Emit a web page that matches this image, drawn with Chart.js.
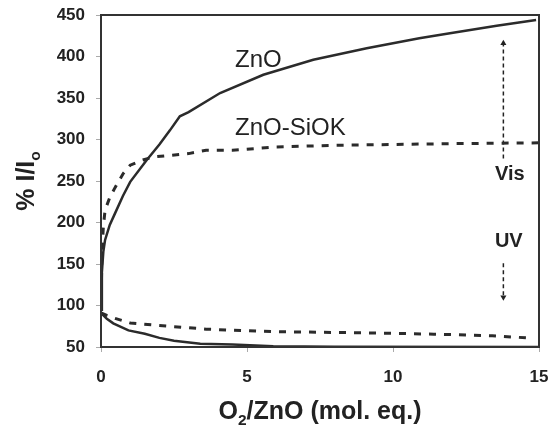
<!DOCTYPE html>
<html>
<head>
<meta charset="utf-8">
<script src="https://cdn.jsdelivr.net/npm/chart.js@4"></script>
<style>
  body { margin: 0; background: #fff; }
  canvas { display: block; }
</style>
</head>
<body>
<canvas id="grafico" width="549" height="430"></canvas>
<script>
// datos
const znoVisX = [0, 0.03, 0.08, 0.14, 0.3, 0.48, 0.75, 1.0, 1.56, 2.0, 2.36, 2.7, 3.0, 4.08, 5.56, 7.27, 9.1, 10.0, 10.9, 11.95, 13.55, 14.9];
const znoVisY = [95, 140, 165, 179, 197, 211, 232, 249, 275, 294, 311, 328, 333, 356, 378, 396, 410, 416, 422, 428, 437, 444];

const siokVisX = [0, 0.03, 0.08, 0.14, 0.3, 0.48, 0.76, 1.0, 1.4, 1.8, 2.4, 3.0, 3.6, 4.5, 6.0, 8.0, 10.0, 12.0, 15.0];
const siokVisY = [95, 160, 195, 215, 230, 242, 259, 269, 275, 279, 281, 283, 287, 287, 291, 293, 294, 295, 296];

const znoUvX = [0, 0.2, 0.42, 0.94, 1.5, 2.0, 2.5, 3.4, 4.5, 5.9, 8.0, 15.0];
const znoUvY = [91, 84, 78.5, 70, 66, 61, 57.5, 54, 53, 51, 50.3, 50];

const siokUvX = [0, 0.2, 0.48, 1.0, 1.8, 3.6, 5.9, 9.1, 11.4, 13.4, 14.6];
const siokUvY = [91, 88, 84.5, 79, 76.5, 71.5, 68.5, 67, 65.5, 63.5, 61];

// flechas Vis / UV
const arrowVisX = [13.78, 13.78];
const arrowVisY = [277, 416];
const arrowUvX = [13.78, 13.78];
const arrowUvY = [151, 110];

const xTicks = [0, 5, 10, 15];
const yTicks = [50, 100, 150, 200, 250, 300, 350, 400, 450];

const FONT = "'Liberation Sans', Arial, sans-serif";

function puntos(xs, ys) {
  return xs.map((x, i) => ({ x: x, y: ys[i] }));
}

function linea(xs, ys, dashed) {
  return {
    data: puntos(xs, ys),
    borderColor: '#2b2b2b',
    borderWidth: dashed ? 3 : 2.5,
    borderDash: dashed ? [7, 8] : [],
    pointRadius: 0,
    tension: 0,
    fill: false
  };
}

function flecha(xs, ys, rot) {
  return {
    data: puntos(xs, ys),
    borderColor: '#222',
    backgroundColor: '#222',
    borderWidth: 1.5,
    borderDash: [4, 3],
    pointStyle: 'triangle',
    pointRadius: [0, 3.5],
    pointRotation: rot,
    pointBorderWidth: 0,
    tension: 0
  };
}

// textos sobre el grafico, en coordenadas de datos
const textos = [
  { t: 'ZnO', x: 4.59, y: 387, font: '24px ' + FONT },
  { t: 'ZnO-SiOK', x: 4.59, y: 305, font: '24px ' + FONT },
  { t: 'Vis', x: 13.49, y: 251, font: 'bold 20px ' + FONT },
  { t: 'UV', x: 13.49, y: 170.5, font: 'bold 20px ' + FONT }
];

function dibujarPartes(ctx, partes, cx, cy, size) {
  let total = 0;
  partes.forEach(p => {
    ctx.font = 'bold ' + (p.sub ? size * 0.62 : size) + 'px ' + FONT;
    total += ctx.measureText(p.t).width;
  });
  let x = cx - total / 2;
  partes.forEach(p => {
    ctx.font = 'bold ' + (p.sub ? size * 0.62 : size) + 'px ' + FONT;
    ctx.fillText(p.t, x, p.sub ? cy + size * 0.22 : cy);
    x += ctx.measureText(p.t).width;
  });
}

const overlay = {
  id: 'overlay',
  afterDraw(chart) {
    const ctx = chart.ctx;
    const a = chart.chartArea;
    const sx = chart.scales.x;
    const sy = chart.scales.y;
    ctx.save();

    ctx.strokeStyle = '#333';
    ctx.lineWidth = 2;
    ctx.strokeRect(a.left, a.top, a.right - a.left, a.bottom - a.top);

    ctx.fillStyle = '#222';
    ctx.textAlign = 'left';
    ctx.textBaseline = 'alphabetic';
    textos.forEach(tx => {
      ctx.font = tx.font;
      ctx.fillText(tx.t, sx.getPixelForValue(tx.x), sy.getPixelForValue(tx.y));
    });

    // titulo eje x
    dibujarPartes(ctx, [
      { t: 'O' }, { t: '2', sub: true }, { t: '/ZnO (mol. eq.)' }
    ], (a.left + a.right) / 2, 419, 25);

    // titulo eje y
    ctx.translate(34, (a.top + a.bottom) / 2);
    ctx.rotate(-Math.PI / 2);
    dibujarPartes(ctx, [{ t: '% I/I' }, { t: 'o', sub: true }], 0, 0, 25);

    ctx.restore();
  }
};

new Chart(document.getElementById('grafico'), {
  type: 'line',
  data: {
    datasets: [
      linea(znoVisX, znoVisY, false),
      linea(siokVisX, siokVisY, true),
      linea(znoUvX, znoUvY, false),
      linea(siokUvX, siokUvY, true),
      flecha(arrowVisX, arrowVisY, 0),
      flecha(arrowUvX, arrowUvY, 180)
    ]
  },
  options: {
    responsive: false,
    animation: false,
    layout: { padding: { left: 0, top: 15, right: 10, bottom: 0 } },
    plugins: {
      legend: { display: false },
      tooltip: { enabled: false }
    },
    scales: {
      x: {
        type: 'linear',
        min: 0,
        max: 15,
        afterBuildTicks: s => { s.ticks = xTicks.map(v => ({ value: v })); },
        afterFit: s => { s.height = 83; s.paddingLeft = 0; s.paddingRight = 0; },
        border: { display: false },
        grid: { drawOnChartArea: false, drawTicks: true, tickLength: 5, color: '#aaa' },
        ticks: {
          padding: 15,
          color: '#222',
          font: { family: FONT, size: 17, weight: 'bold' }
        }
      },
      y: {
        min: 50,
        max: 450,
        afterBuildTicks: s => { s.ticks = yTicks.map(v => ({ value: v })); },
        afterFit: s => { s.width = 101; s.paddingTop = 0; s.paddingBottom = 0; },
        border: { display: false },
        grid: { drawOnChartArea: false, drawTicks: true, tickLength: 5, color: '#aaa' },
        ticks: {
          padding: 11,
          color: '#222',
          font: { family: FONT, size: 17, weight: 'bold' }
        }
      }
    }
  },
  plugins: [overlay]
});
</script>
</body>
</html>
